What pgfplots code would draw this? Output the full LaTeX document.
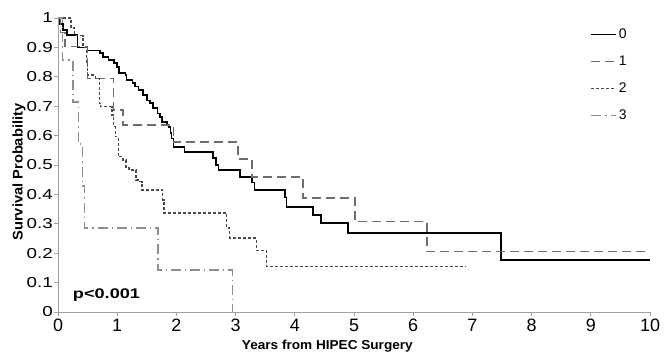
\documentclass[border=0pt]{standalone}
\usepackage{fontspec}
\setmainfont{Liberation Sans}
\newfontfamily\widefont{Liberation Sans}[FakeStretch=1.3]
\newfontfamily\labfont{Liberation Sans}[FakeStretch=1.05]
\usepackage{pgfplots}
\pgfplotsset{compat=1.18}
\definecolor{axgray}{HTML}{A0A0A0}
\definecolor{cone}{HTML}{6E6E6E}
\definecolor{ctwo}{HTML}{4A4A4A}
\definecolor{cthree}{HTML}{8E8E8E}
\begin{document}
\begin{tikzpicture}
\begin{axis}[
 scale only axis, width=592bp, height=294bp,
 xmin=0, xmax=10, ymin=0, ymax=1,
 axis x line*=bottom, axis y line*=left,
 axis line style={draw=axgray, line width=0.8bp},
 xtick={0,1,2,3,4,5,6,7,8,9,10},
 ytick={0,0.1,0.2,0.3,0.4,0.5,0.6,0.7,0.8,0.9,1},
 yticklabels={0,0.1,0.2,0.3,0.4,0.5,0.6,0.7,0.8,0.9,1},
 tick style={draw=axgray, line width=0.8bp},
 tick align=outside, major tick length=4bp,
 /pgf/number format/assume math mode=true,
 xticklabel style={font=\fontsize{18}{20}\selectfont, inner sep=0pt, yshift=-3bp},
 yticklabel style={font=\widefont\fontsize{14.5}{16}\selectfont, inner sep=0pt, xshift=-1bp},
 xlabel={Years from HIPEC Surgery},
 xlabel style={font=\labfont\bfseries\fontsize{13}{15}\selectfont, at={(axis description cs:0.455,0)}, anchor=north, inner sep=0pt, yshift=-27.5bp},
 ylabel={Survival Probability},
 ylabel style={font=\labfont\bfseries\fontsize{14}{16}\selectfont, at={(axis description cs:0,0.476)}, anchor=center, inner sep=0pt, yshift=39bp},
 legend style={draw=none, fill=none, at={(axis cs:9.0,0.972)}, anchor=north west, font=\fontsize{14}{16}\selectfont, row sep=12bp, inner sep=0pt},
 legend cell align=left,
 legend image code/.code={\draw[#1, line width=0.8bp] (0bp,0bp) -- (25bp,0bp);},
 clip=false,
]
\addplot[const plot, black, line width=1.6bp] coordinates {
(0,1) (0.03,0.98) (0.08,0.96) (0.15,0.942) (0.33,0.90) (0.5,0.889) (0.71,0.88)
(0.76,0.868) (0.85,0.857) (0.95,0.846) (1.0,0.834) (1.03,0.813) (1.14,0.806)
(1.16,0.79) (1.26,0.778) (1.30,0.767) (1.36,0.755) (1.44,0.738) (1.50,0.72)
(1.55,0.711) (1.60,0.694) (1.68,0.675) (1.72,0.664) (1.76,0.647) (1.84,0.636)
(1.87,0.63) (1.90,0.608) (1.92,0.59) (1.95,0.562) (2.14,0.545) (2.62,0.524)
(2.67,0.50) (2.71,0.483) (3.07,0.46) (3.28,0.44) (3.32,0.415) (3.83,0.39)
(3.86,0.357) (4.31,0.33) (4.44,0.303) (4.90,0.269) (7.48,0.177) (10,0.177)
};
\addlegendentry{0}
\addplot[const plot, cone, line width=1.5bp, dash pattern=on 9bp off 5bp] coordinates {
(0,1) (0.04,0.95) (0.12,0.903) (0.5,0.795) (0.94,0.687) (1.1,0.636) (1.95,0.578)
(3.04,0.52) (3.28,0.46) (4.14,0.388) (5.02,0.307) (6.23,0.205) (10,0.205)
};
\addlegendentry{1}
\addplot[const plot, ctwo, line width=1.4bp, dash pattern=on 3bp off 2bp] coordinates {
(0,1) (0.22,0.966) (0.28,0.94) (0.42,0.90) (0.48,0.847) (0.5,0.806) (0.63,0.795)
(0.70,0.71) (0.72,0.698) (0.91,0.67) (0.94,0.63) (0.97,0.596) (1.02,0.528)
(1.1,0.517) (1.15,0.49) (1.2,0.483) (1.32,0.449) (1.38,0.443) (1.42,0.415)
(1.77,0.381) (1.79,0.337) (2.85,0.286) (2.9,0.252) (3.35,0.21) (3.52,0.155) (6.9,0.155)
};
\addlegendentry{2}
\addplot[const plot, cthree, line width=1.5bp, dash pattern=on 10bp off 4bp on 1.2bp off 4bp] coordinates {
(0,1) (0.08,0.857) (0.25,0.714) (0.35,0.571) (0.41,0.429) (0.45,0.286) (1.69,0.143) (2.95,0)
};
\addlegendentry{3}
\node[font=\widefont\bfseries\fontsize{14}{16}\selectfont, anchor=west, inner sep=0pt] at (axis cs:0.25,0.058) {p<0.001};
\coordinate (O) at (axis cs:0,0);
\end{axis}
\pgfresetboundingbox
\path ([shift={(-58bp,-41bp)}]O) rectangle ([shift={(611bp,312bp)}]O);
\end{tikzpicture}
\end{document}
